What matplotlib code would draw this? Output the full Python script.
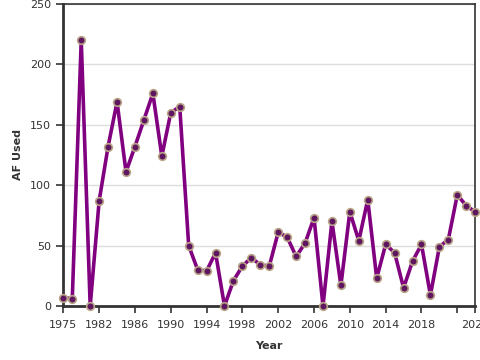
import matplotlib
matplotlib.use("Agg")
import matplotlib.pyplot as plt

# yearly values, first to last point
years = list(range(1975, 2022))
af_used = [7, 6, 220, 0, 87, 132, 169, 111, 132, 154, 176, 124, 160, 165,
           50, 30, 29, 44, 0, 21, 33, 40, 34, 33, 61, 57, 41, 52, 73, 0,
           70, 17, 78, 54, 88, 23, 51, 44, 15, 37, 51, 9, 49, 55, 92, 83, 78]

# tick positions (point index) and their labels as shown on the chart
tick_idx = [0, 4, 8, 12, 16, 20, 24, 28, 32, 36, 40, 44, 46]
tick_labels = ["1975", "1982", "1986", "1990", "1994", "1998", "2002",
               "2006", "2010", "2014", "2018", "", "2021"]

fig = plt.figure(figsize=(4.8, 3.6), dpi=100)
ax = fig.add_axes([0.131, 0.15, 0.859, 0.839])

x = list(range(len(years)))
ax.plot(x, af_used, color="#800080", lw=2.6, zorder=3, clip_on=False,
        marker="o", ms=5.5, mfc="#5e1660", mec="#b8a486", mew=1.2)

ax.set_xlim(-0.05, 46)
ax.set_ylim(0, 250)
ax.set_yticks([0, 50, 100, 150, 200, 250])
ax.set_xticks(tick_idx)
ax.set_xticklabels(tick_labels)
ax.grid(axis="y", color="#dddddd", lw=1)
ax.set_axisbelow(True)

ax.tick_params(labelsize=8, colors="#333333", length=5, width=1.2)
ax.tick_params(axis="x", pad=5)
for side in ["left", "bottom"]:
    ax.spines[side].set_linewidth(2)
    ax.spines[side].set_color("#333333")
for side in ["top", "right"]:
    ax.spines[side].set_linewidth(1.2)
    ax.spines[side].set_color("#333333")

ax.set_xlabel("Year", fontsize=8, fontweight="bold", color="#333333", labelpad=8)
ax.set_ylabel("AF Used", fontsize=8, fontweight="bold", color="#333333", labelpad=5)

fig.savefig("out.png", dpi=100)
